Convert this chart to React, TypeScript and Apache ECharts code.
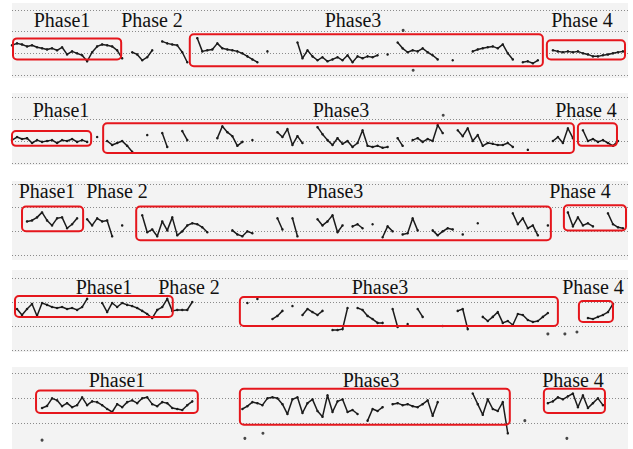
import React, { useEffect, useRef } from "react";
import * as echarts from "echarts";

// 124 epochs per strip; values are amplitude in grid units (0 = third dotted line, 1 = second, 2 = top)
const EPOCHS = 124;

const row1Values: (number | null)[] = [
  0.37, 0.46, 0.41, 0.32, 0.37, 0.28, 0.23, 0.18, 0.23, 0.14,
  0.28, -0.05, 0.09, 0, -0.09, -0.37, 0.05, 0.32, 0.41, 0.37,
  0.32, 0.14, -0.23, null, 0.05, -0.05, -0.32, -0.18, 0.14, null,
  0.55, 0.46, 0.41, 0.37, 0.05, -0.41, null, 0.7, 0.09, 0.14,
  0.18, 0.46, 0.23, 0.18, 0.14, 0.09, 0, -0.14, -0.28, -0.41,
  null, 0.09, null, null, null, null, null, 0.5, -0.23, 0.14,
  -0.14, -0.32, -0.18, -0.37, -0.28, -0.18, -0.32, -0.09, -0.41, -0.14,
  -0.23, -0.14, -0.18, -0.09, null, -0.05, null, 0.5, 0.23, 0.05,
  0.14, 0.09, 0.23, 0.05, -0.09, -0.28, null, null, -0.32, null,
  null, null, 0.09, 0.18, 0.23, 0.28, 0.32, 0.23, 0.41, 0,
  -0.28, null, -0.41, -0.37, -0.46, -0.32, null, null, 0.14, 0.09,
  0.05, 0.09, 0.05, 0.09, 0, -0.05, -0.14, -0.14, -0.09, -0.05,
  0, 0.05, 0.09, null,
];

const row2Values: (number | null)[] = [
  0.04, 0.18, 0.09, 0.13, -0.09, 0.04, -0.04, 0, 0.04, -0.09,
  0.04, 0, 0.09, -0.04, 0.04, -0.04, null, 0.18, null, 0,
  -0.18, -0.09, 0, -0.22, -0.49, null, null, 0.27, null, null,
  0.36, -0.27, null, null, 0.45, 0.04, null, null, null, null,
  null, 0.13, 0.67, 0.4, 0.22, -0.22, -0.04, null, 0.04, null,
  null, null, null, 0.4, 0.18, 0.54, -0.18, 0.22, -0.09, null,
  null, 0.63, 0.31, 0.04, -0.18, 0.13, -0.13, 0, -0.27, -0.09,
  0.49, -0.22, -0.27, -0.22, -0.31, -0.27, null, 0.13, -0.22, null,
  0.04, 0.13, -0.04, 0.09, 0, 0.72, 0.36, null, null, 0.49,
  0.22, 0.58, 0, 0.27, -0.22, -0.09, -0.13, -0.18, -0.18, -0.09,
  -0.27, null, null, -0.4, null, null, null, null, 0, 0.18,
  -0.09, 0.58, 0.13, null, 0.49, 0, 0.09, -0.04, 0.04, -0.09,
  -0.22, 0, null, null,
];

const row3Values: (number | null)[] = [
  null, null, null, 0.42, 0.46, 0.59, 0.8, 0.46, 0.25, 0.55,
  0.59, 0.13, 0.3, 0.55, null, 0.51, 0.25, 0.55, 0.42, 0.46,
  -0.21, null, 0.25, null, null, null, 0.68, -0.04, 0.08, -0.21,
  0.42, 0.04, 0.59, -0.17, 0, 0.25, 0.34, 0.3, 0.17, -0.04,
  null, null, null, null, 0.04, -0.13, -0.21, 0, -0.08, null,
  null, null, null, 0.55, 0.08, null, 0.55, -0.21, null, null,
  null, 0.51, 0.25, 0.42, 0.68, -0.04, 0.25, null, 0.21, 0.3,
  0.13, null, 0.3, null, -0.25, 0.21, 0, null, -0.13, -0.08,
  0.55, 0.04, null, null, 0.04, -0.17, 0, 0.13, 0.08, null,
  -0.13, null, null, 0.34, null, null, null, null, null, null,
  0.76, 0.3, 0.55, 0.13, 0.25, -0.17, null, 0.25, null, null,
  null, 0.8, 0.21, 0.59, 0.25, 0.34, 0.21, null, null, 0.76,
  0.3, 0.17, 0.13, null,
];

const row4Values: (number | null)[] = [
  null, 0.71, 0.46, 0.71, 0.92, 0.42, 0.96, 0.88, 0.79, 0.75,
  0.79, 0.71, 0.75, 0.67, 0.79, 1.13, null, null, 0.96, 0.58,
  0.96, 0.79, 0.96, 0.88, 0.83, 0.75, 0.63, 0.5, 0.33, 0.67,
  0.79, 1.13, 0.63, 0.67, 0.67, 0.67, 1.0, null, null, null,
  null, null, null, null, null, null, null, 0.96, null, 1.13,
  null, null, 0.29, 0.42, 0.63, null, 0.83, null, 0.46, 0.71,
  0.58, 0.46, 0.63, null, -0.17, -0.17, -0.13, 0.75, null, 0.75,
  0.67, 0.42, 0.29, 0.13, 0.13, null, 0.71, -0.04, null, 0.08,
  null, 0.71, 0.38, null, null, null, 0, null, null, 0.63,
  0.71, -0.13, null, null, 0.38, 0.21, 0.38, 0.58, 0.13, 0.21,
  0.04, 0.5, 0.46, 0.25, 0.17, 0.21, 0.38, 0.54, null, null,
  null, null, null, null, null, 0.33, 0.29, 0.38, 0.46, 0.58,
  0.92, null, null, null,
];

const row5Values: (number | null)[] = [
  null, null, null, null, null, null, 0.62, 0.7, 1.0, 0.92,
  0.69, 0.81, 0.65, 0.73, 1.04, 0.73, 0.88, 0.85, 0.73, 0.58,
  0.46, 0.77, 0.65, 0.85, 0.92, 0.81, 1.0, 1.04, 0.77, 0.69,
  0.85, 0.81, 0.62, 0.58, 0.54, 0.73, 0.88, null, null, null,
  null, null, null, null, null, null, 0.58, 0.69, 0.85, 0.81,
  0.73, 1.0, 1.04, 1.0, 0.77, 0.38, 0.96, 1.04, 0.42, 0.81,
  0.96, 0.5, 0.27, 1.12, 0.46, 0.88, 0.96, 0.46, 0.54, 0.38,
  null, 0.12, 0.58, 0.5, 0.65, null, 0.77, 0.81, 0.73, 0.77,
  0.69, 0.65, 0.77, 0.92, 0.31, 0.85, null, null, null, null,
  null, null, 1.19, 0.77, 0.35, 0.96, 0.58, 0.5, 0.85, -0.38,
  null, null, null, null, null, null, null, 0.81, 0.88, 1.04,
  0.96, 1.08, 1.19, 0.65, 1.12, 0.62, 0.81, 1.0, 0.73, null,
  null, null, null, null,
];

// isolated artefact points [epoch, amplitude]
const row1Strays = [[78.1, 1.06], [80.1, -0.78]];
const row2Strays = [[86.1, 1.17]];
const row3Strays: number[][] = [];
const row4Strays = [[107, -0.33], [110.4, -0.33], [112.8, -0.25]];
const row5Strays = [[6, -0.65], [46.5, -0.58], [50.1, -0.38], [102.4, 0.12], [110.8, -0.58]];

// phase boxes [startEpoch, endEpoch, lowAmp, highAmp]
const row1Boxes = [[0.2, 21.8, -0.28, 0.69], [35.5, 106.0, -0.6, 0.88], [106.8, 122.4, -0.28, 0.6]];
const row2Boxes = [[0, 15.8, -0.22, 0.45], [18.2, 112.2, -0.54, 0.81], [113.0, 120.8, -0.22, 0.81]];
const row3Boxes = [[2.0, 14.2, 0, 1.05], [24.8, 107.6, -0.38, 1.05], [110.2, 122.6, 0.04, 1.1]];
const row4Boxes = [[0.6, 32.1, 0.38, 1.25], [45.5, 109.0, 0, 1.21], [113.2, 120.0, 0.17, 1.04]];
const row5Boxes = [[4.8, 37.1, 0.42, 1.31], [45.5, 99.4, -0.04, 1.38], [106.2, 118.4, 0.42, 1.38]];

const row1Labels = ["Phase1", "Phase 2", "Phase3", "Phase 4"];
const row2Labels = ["Phase1", "Phase3", "Phase 4"];
const row3Labels = ["Phase1", "Phase 2", "Phase3", "Phase 4"];
const row4Labels = ["Phase1", "Phase 2", "Phase3", "Phase 4"];
const row5Labels = ["Phase1", "Phase3", "Phase 4"];

// layout (pixels)
const layout = [
  { top: 10, height: 65, band: [3, 78], labelY: 20, labelX: [62, 152, 353, 582] },
  { top: 97, height: 66, band: [93, 165], labelY: 110, labelX: [61, 341, 586] },
  { top: 184, height: 71, band: [181, 260], labelY: 191, labelX: [47, 117, 335, 580] },
  { top: 278, height: 72, band: [270, 352], labelY: 287, labelX: [104, 189, 380, 593] },
  { top: 373, height: 78, band: [367, 449], labelY: 380, labelX: [117, 371, 573] },
];

const rows = [
  { values: row1Values, strays: row1Strays, boxes: row1Boxes, labels: row1Labels },
  { values: row2Values, strays: row2Strays, boxes: row2Boxes, labels: row2Labels },
  { values: row3Values, strays: row3Strays, boxes: row3Boxes, labels: row3Labels },
  { values: row4Values, strays: row4Strays, boxes: row4Boxes, labels: row4Labels },
  { values: row5Values, strays: row5Strays, boxes: row5Boxes, labels: row5Labels },
];

const TRACE = "#1b1b1b";
const RED = "#e5161c";

export default function App() {
  const ref = useRef<HTMLDivElement>(null);
  useEffect(() => {
    if (!ref.current) return;
    const chart = echarts.init(ref.current, undefined, { renderer: "svg" });
    const grid: any[] = [];
    const xAxis: any[] = [];
    const yAxis: any[] = [];
    const series: any[] = [];
    const graphic: any[] = [];
    rows.forEach((row, k) => {
      const L = layout[k];
      grid.push({ left: 12, right: 5, top: L.top, height: L.height, containLabel: false });
      xAxis.push({ type: "value", gridIndex: k, min: 0, max: EPOCHS - 1, show: false });
      yAxis.push({
        type: "value", gridIndex: k, min: -1, max: 2, interval: 1,
        axisLine: { show: false }, axisTick: { show: false }, axisLabel: { show: false },
        splitLine: { show: true, lineStyle: { type: [1, 2], color: "#8a8a8a", width: 1 } },
      });
      series.push({
        type: "line", xAxisIndex: k, yAxisIndex: k, silent: true,
        data: row.values.map((v, i) => [i, v === null ? "-" : v]),
        symbol: "circle", symbolSize: 2.5, showSymbol: true, showAllSymbol: true,
        lineStyle: { color: TRACE, width: 1.5 }, itemStyle: { color: TRACE },
        z: 3,
      });
      series.push({
        type: "scatter", xAxisIndex: k, yAxisIndex: k, silent: true,
        data: row.strays, symbolSize: 3, itemStyle: { color: TRACE }, z: 3,
      });
      series.push({
        type: "custom", xAxisIndex: k, yAxisIndex: k, silent: true,
        data: row.boxes, encode: { x: [0, 1], y: [2, 3] }, clip: false, z: 4,
        renderItem: (_p: any, api: any) => {
          const a = api.coord([api.value(0), api.value(3)]);
          const b = api.coord([api.value(1), api.value(2)]);
          return {
            type: "rect",
            shape: { x: a[0], y: a[1], width: b[0] - a[0], height: b[1] - a[1], r: 4 },
            style: { fill: "none", stroke: RED, lineWidth: 2 },
          };
        },
      });
      graphic.push({
        type: "rect", z: -10, silent: true,
        shape: { x: 12, y: L.band[0], width: 616, height: L.band[1] - L.band[0] },
        style: { fill: "#f3f3f3" },
      });
      row.labels.forEach((t, j) => {
        graphic.push({
          type: "text", z: 100, silent: true, x: L.labelX[j], y: L.labelY,
          style: {
            text: t, fill: "#111", font: '20px "Liberation Serif"',
            align: "center", verticalAlign: "middle",
            textAlign: "center", textVerticalAlign: "middle",
          },
        });
      });
    });
    chart.setOption({
      animation: false,
      backgroundColor: "#ffffff",
      grid, xAxis, yAxis, series, graphic,
    });
    return () => chart.dispose();
  }, []);
  return (
    <div
      ref={ref}
      style={{ position: "fixed", left: 0, top: 0, width: 633, height: 449, background: "#fff" }}
    />
  );
}
